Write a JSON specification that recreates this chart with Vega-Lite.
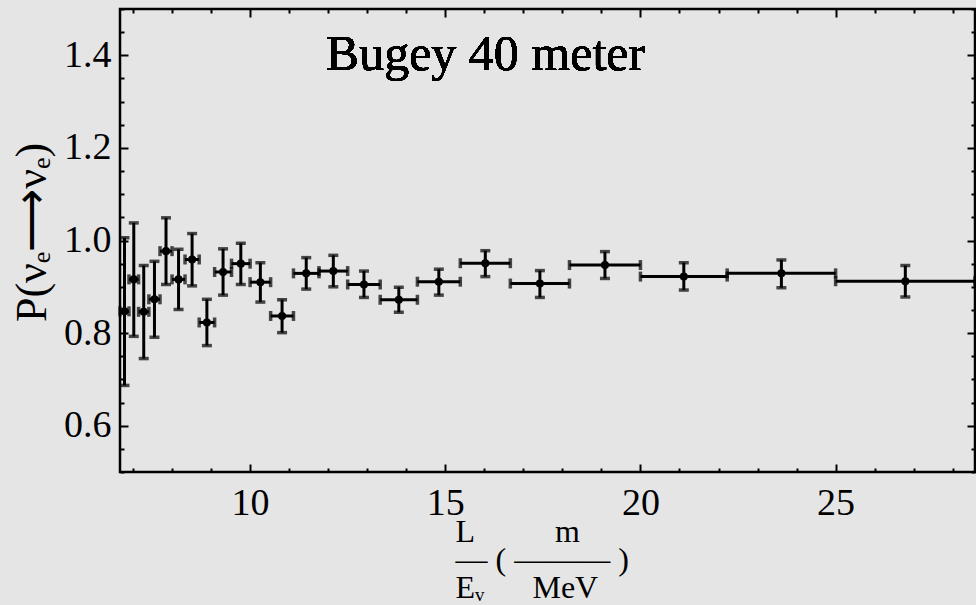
{
  "$schema": "https://vega.github.io/schema/vega-lite/v6.json",
  "width": 855,
  "height": 463,
  "autosize": "none",
  "padding": {"left": 120, "top": 9, "right": 1, "bottom": 133},
  "background": "#e5e5e5",
  "config": {
    "font": "Liberation Serif",
    "view": {"stroke": "black", "strokeWidth": 2.5, "fill": "#e5e5e5"}
  },
  "data": {
    "values": [
      {"x": 6.782, "xlo": 6.667, "xhi": 6.897, "y": 0.847, "ylo": 0.687, "yhi": 1.006},
      {"x": 7.020, "xlo": 6.897, "xhi": 7.143, "y": 0.916, "ylo": 0.793, "yhi": 1.038},
      {"x": 7.275, "xlo": 7.143, "xhi": 7.407, "y": 0.846, "ylo": 0.745, "yhi": 0.946},
      {"x": 7.550, "xlo": 7.407, "xhi": 7.692, "y": 0.873, "ylo": 0.791, "yhi": 0.955},
      {"x": 7.846, "xlo": 7.692, "xhi": 8.000, "y": 0.977, "ylo": 0.905, "yhi": 1.049},
      {"x": 8.167, "xlo": 8.000, "xhi": 8.333, "y": 0.916, "ylo": 0.851, "yhi": 0.981},
      {"x": 8.514, "xlo": 8.333, "xhi": 8.696, "y": 0.959, "ylo": 0.902, "yhi": 1.015},
      {"x": 8.893, "xlo": 8.696, "xhi": 9.091, "y": 0.823, "ylo": 0.773, "yhi": 0.873},
      {"x": 9.307, "xlo": 9.091, "xhi": 9.524, "y": 0.932, "ylo": 0.882, "yhi": 0.982},
      {"x": 9.762, "xlo": 9.524, "xhi": 10.000, "y": 0.950, "ylo": 0.905, "yhi": 0.994},
      {"x": 10.263, "xlo": 10.000, "xhi": 10.526, "y": 0.910, "ylo": 0.867, "yhi": 0.952},
      {"x": 10.819, "xlo": 10.526, "xhi": 11.111, "y": 0.837, "ylo": 0.801, "yhi": 0.872},
      {"x": 11.438, "xlo": 11.111, "xhi": 11.765, "y": 0.929, "ylo": 0.895, "yhi": 0.963},
      {"x": 12.132, "xlo": 11.765, "xhi": 12.500, "y": 0.934, "ylo": 0.900, "yhi": 0.968},
      {"x": 12.917, "xlo": 12.500, "xhi": 13.333, "y": 0.905, "ylo": 0.877, "yhi": 0.934},
      {"x": 13.810, "xlo": 13.333, "xhi": 14.286, "y": 0.872, "ylo": 0.845, "yhi": 0.899},
      {"x": 14.835, "xlo": 14.286, "xhi": 15.385, "y": 0.911, "ylo": 0.882, "yhi": 0.938},
      {"x": 16.026, "xlo": 15.385, "xhi": 16.667, "y": 0.951, "ylo": 0.922, "yhi": 0.978},
      {"x": 17.424, "xlo": 16.667, "xhi": 18.182, "y": 0.907, "ylo": 0.877, "yhi": 0.935},
      {"x": 19.091, "xlo": 18.182, "xhi": 20.000, "y": 0.947, "ylo": 0.918, "yhi": 0.976},
      {"x": 21.111, "xlo": 20.000, "xhi": 22.222, "y": 0.922, "ylo": 0.893, "yhi": 0.952},
      {"x": 23.611, "xlo": 22.222, "xhi": 25.000, "y": 0.929, "ylo": 0.898, "yhi": 0.958},
      {"x": 26.786, "xlo": 25.000, "xhi": 28.571, "y": 0.912, "ylo": 0.878, "yhi": 0.946}
    ]
  },
  "resolve": {"axis": {"x": "independent", "y": "independent"}},
  "layer": [
    {
      "mark": {"type": "rule", "color": "black", "strokeWidth": 3},
      "encoding": {
        "x": {
          "field": "x", "type": "quantitative",
          "scale": {"domain": [6.667, 28.571], "nice": false, "zero": false},
          "axis": {
            "orient": "bottom",
            "values": [7, 8, 9, 10, 11, 12, 13, 14, 15, 16, 17, 18, 19, 20, 21, 22, 23, 24, 25, 26, 27, 28],
            "labelExpr": "datum.value % 5 === 0 ? datum.label : ''",
            "format": "d",
            "domain": false, "grid": false,
            "tickColor": "black", "tickWidth": 2,
            "tickSize": {"condition": {"test": "datum.value % 5 === 0", "value": -8}, "value": -4},
            "labelFont": "Liberation Serif", "labelFontSize": 38, "labelColor": "black",
            "labelPadding": 20, "labelFlush": false, "labelOverlap": false,
            "title": [
              "L\u00a0\u00a0\u00a0\u00a0\u00a0\u00a0\u00a0\u00a0\u00a0\u00a0m",
              "\u2015\u00a0(\u00a0\u2015\u2015\u2015\u00a0)",
              "E\u1d65\u00a0\u00a0\u00a0\u00a0\u00a0\u00a0MeV"
            ],
            "titleFont": "Liberation Serif", "titleFontSize": 32, "titleFontWeight": "normal",
            "titleColor": "black", "titleLineHeight": 28,
            "titleX": 335, "titleY": 44, "titleAlign": "left", "titleBaseline": "top", "titleAnchor": null
          }
        },
        "y": {
          "field": "ylo", "type": "quantitative",
          "scale": {"domain": [0.5, 1.5], "nice": false, "zero": false},
          "axis": {
            "orient": "left",
            "values": [0.5, 0.55, 0.6, 0.65, 0.7, 0.75, 0.8, 0.85, 0.9, 0.95, 1.0, 1.05, 1.1, 1.15, 1.2, 1.25, 1.3, 1.35, 1.4, 1.45, 1.5],
            "labelExpr": "abs(datum.value * 5 - round(datum.value * 5)) < 0.001 ? format(datum.value, '.1f') : ''",
            "domain": false, "grid": false,
            "tickColor": "black", "tickWidth": 2,
            "tickSize": {"condition": {"test": "abs(datum.value * 5 - round(datum.value * 5)) < 0.001", "value": -8}, "value": -4},
            "labelFont": "Liberation Serif", "labelFontSize": 38, "labelColor": "black",
            "labelPadding": 17, "labelFlush": false, "labelOverlap": false,
            "title": "P(\u03bd\u2091\u27f6\u03bd\u2091)",
            "titleFont": "Liberation Serif", "titleFontSize": 44, "titleFontWeight": "normal",
            "titleColor": "black", "titleAngle": -90,
            "titleX": -88, "titleY": 223, "titleAlign": "center", "titleBaseline": "middle", "titleAnchor": null
          }
        },
        "y2": {"field": "yhi"}
      }
    },
    {
      "mark": {"type": "rule", "color": "black", "strokeWidth": 3},
      "encoding": {
        "x": {
          "field": "xlo", "type": "quantitative",
          "axis": {
            "orient": "top",
            "values": [7, 8, 9, 10, 11, 12, 13, 14, 15, 16, 17, 18, 19, 20, 21, 22, 23, 24, 25, 26, 27, 28],
            "labels": false, "domain": false, "grid": false, "title": null,
            "tickColor": "black", "tickWidth": 2,
            "tickSize": {"condition": {"test": "datum.value % 5 === 0", "value": -8}, "value": -4}
          }
        },
        "x2": {"field": "xhi"},
        "y": {
          "field": "y", "type": "quantitative",
          "axis": {
            "orient": "right",
            "values": [0.5, 0.55, 0.6, 0.65, 0.7, 0.75, 0.8, 0.85, 0.9, 0.95, 1.0, 1.05, 1.1, 1.15, 1.2, 1.25, 1.3, 1.35, 1.4, 1.45, 1.5],
            "labels": false, "domain": false, "grid": false, "title": null,
            "tickColor": "black", "tickWidth": 2,
            "tickSize": {"condition": {"test": "abs(datum.value * 5 - round(datum.value * 5)) < 0.001", "value": -8}, "value": -4}
          }
        }
      }
    },
    {
      "mark": {"type": "tick", "orient": "horizontal", "color": "black", "size": 10, "thickness": 3.5},
      "encoding": {
        "x": {"field": "x", "type": "quantitative", "axis": null},
        "y": {"field": "ylo", "type": "quantitative", "axis": null}
      }
    },
    {
      "mark": {"type": "tick", "orient": "horizontal", "color": "black", "size": 10, "thickness": 3.5},
      "encoding": {
        "x": {"field": "x", "type": "quantitative", "axis": null},
        "y": {"field": "yhi", "type": "quantitative", "axis": null}
      }
    },
    {
      "mark": {"type": "tick", "orient": "vertical", "color": "black", "size": 10, "thickness": 3.5},
      "encoding": {
        "x": {"field": "xlo", "type": "quantitative", "axis": null},
        "y": {"field": "y", "type": "quantitative", "axis": null}
      }
    },
    {
      "mark": {"type": "tick", "orient": "vertical", "color": "black", "size": 10, "thickness": 3.5},
      "encoding": {
        "x": {"field": "xhi", "type": "quantitative", "axis": null},
        "y": {"field": "y", "type": "quantitative", "axis": null}
      }
    },
    {
      "mark": {"type": "point", "filled": true, "color": "black", "opacity": 1, "size": 65},
      "encoding": {
        "x": {"field": "x", "type": "quantitative", "axis": null},
        "y": {"field": "y", "type": "quantitative", "axis": null}
      }
    },
    {
      "mark": {"type": "text", "text": "Bugey 40 meter", "font": "Liberation Serif", "fontSize": 50, "color": "black", "align": "center", "baseline": "alphabetic"},
      "encoding": {
        "x": {"datum": 16.03, "type": "quantitative", "axis": null},
        "y": {"datum": 1.368, "type": "quantitative", "axis": null}
      }
    }
  ]
}
